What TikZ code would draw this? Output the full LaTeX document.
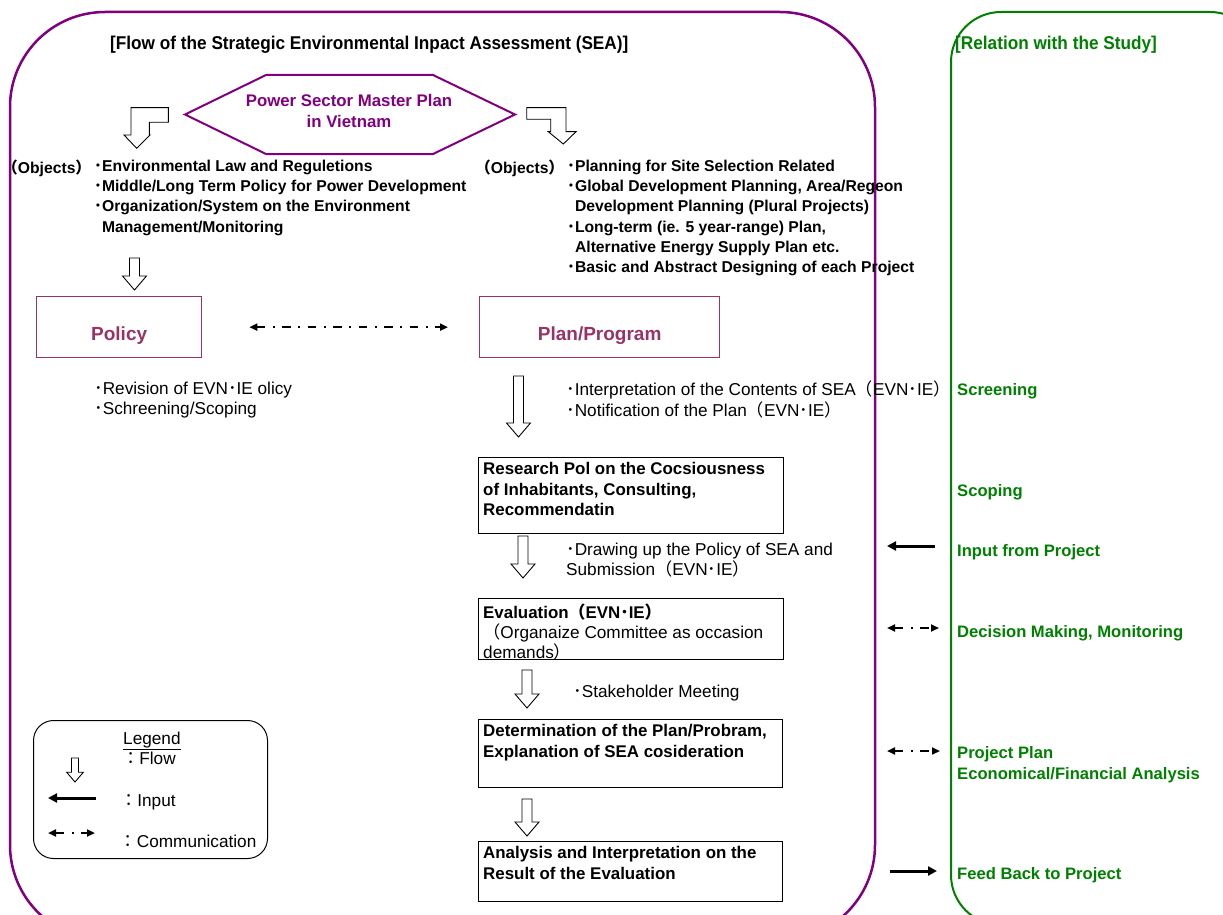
\documentclass[tikz,border=0pt]{standalone}
\usepackage{fontspec}
\setmainfont{Liberation Sans}
\newfontfamily\jp{Noto Sans CJK JP}
\newfontfamily\headfont[FakeStretch=0.93]{Liberation Sans}
\usetikzlibrary{arrows.meta,positioning}

\definecolor{seapurple}{RGB}{128,0,128}
\definecolor{polpink}{RGB}{153,51,102}
\definecolor{studygreen}{RGB}{0,128,0}

\newcommand{\jdot}{{\jp ･}}
\newcommand{\jlp}{{\jp （}}
\newcommand{\jrp}{{\jp ）}}
\newcommand{\jcol}{{\jp ：}}
% hollow flow arrow: x, top, tip, size
\newcommand{\flowarrow}[4]{%
  \draw[flow] (#1-5*#4,#2) -- (#1+5*#4,#2) -- (#1+5*#4,#3-14*#4) -- (#1+12*#4,#3-14*#4)
    -- (#1,#3) -- (#1-12*#4,#3-14*#4) -- (#1-5*#4,#3-14*#4) -- cycle;}

\begin{document}
\begin{tikzpicture}[x=1pt,y=-1pt,>={Triangle[length=8pt,width=7pt]}]
   \tikzstyle{every node}=[inner sep=0pt]
   \tikzstyle{txt}=[anchor=north west,align=left,execute at begin node=\strut,font=\fontsize{17.2}{20.3}\selectfont]
   \tikzstyle{bold}=[txt,font=\fontsize{16.9}{20.3}\selectfont\bfseries]
   \tikzstyle{objs}=[txt,font=\fontsize{15.7}{20.2}\selectfont\bfseries]
   \tikzstyle{studynote}=[txt,text=studygreen,font=\fontsize{16.6}{20.3}\selectfont\bfseries]
   \tikzstyle{heading}=[txt,font=\headfont\fontsize{18.5}{22}\selectfont\bfseries]
   \tikzstyle{box}=[draw,line width=1pt,anchor=north west]
   \tikzstyle{polbox}=[draw=polpink,text=polpink,line width=1.3pt,anchor=north west,minimum height=61pt,
      font=\fontsize{19}{22}\selectfont\bfseries,text height=30pt,text depth=3pt]
   \tikzstyle{flow}=[draw=black,fill=white,line width=0.9pt]
   \tikzstyle{comm}=[<->,line width=2pt,dash pattern=on 8.5pt off 7.5pt on 2pt off 7.5pt]
   \tikzstyle{feed}=[->,line width=3pt,>={Triangle[length=9pt,width=9pt]}]

   \useasboundingbox (0,0) rectangle (1223,915);
   \clip (0,0) rectangle (1223,915);

   % frames
   \draw[seapurple,line width=2.5pt,rounded corners=95pt] (10,12) rectangle (875,940);
   \draw[studygreen,line width=2pt,rounded corners=50pt] (951,12) rectangle (1260,925);

   \node[heading] (title) at (110,33.6) {[Flow of the Strategic Environmental Inpact Assessment (SEA)]};
   \node[heading,text=studygreen] (reltitle) at (955,33.6) {[Relation with the Study]};

   % master plan
   \draw[seapurple,line width=2pt] (185,114.5) -- (266,75) -- (433,75) -- (515,114.5) -- (433,154) -- (266,154) -- cycle;
   \node[anchor=north,align=center,execute at begin node=\strut,text=seapurple,
         font=\fontsize{16.8}{21}\selectfont\bfseries] (psmp) at (349,94) {Power Sector Master Plan\\in Vietnam};
   \draw[flow] (168.3,107.7) -- (131,107.7) -- (131,135) -- (124,135) -- (136.7,148.3) -- (150,135)
      -- (149.3,135) -- (149.3,122.3) -- (168.3,122.3) -- cycle;
   \draw[flow] (526.7,107.7) -- (566,107.7) -- (566,131.7) -- (576,131.7) -- (563.3,144) -- (548.3,131.7)
      -- (550.7,131.7) -- (550.7,119.3) -- (526.7,119.3) -- cycle;

   % objects
   \node[objs] (lobj) at (2,159) {\jlp Objects\jrp};
   \node[objs] (litems) at (94,160) {\jdot Environmental Law and Reguletions\\
      \jdot Middle/Long Term Policy for Power Development\\
      \jdot Organization/System on the Environment\\
      \phantom{\jdot}Management/Monitoring};
   \node[objs] (robj) at (475,159) {\jlp Objects\jrp};
   \node[objs] (ritems) at (567,160) {\jdot Planning for Site Selection Related\\
      \jdot Global Development Planning, Area/Regeon\\
      \phantom{\jdot}Development Planning (Plural Projects)\\
      \jdot Long-term (ie. 5 year-range) Plan,\\
      \phantom{\jdot}Alternative Energy Supply Plan etc.\\
      \jdot Basic and Abstract Designing of each Project};
   \flowarrow{134.5}{258}{290}{1}

   % policy and plan
   \node[polbox,minimum width=165pt] (policy) at (36,296) {Policy};
   \node[polbox,minimum width=240pt] (plan) at (479,296) {Plan/Program};
   \draw[comm,shorten <=47pt,shorten >=31pt] (policy) -- (plan);

   \node[txt] (polnote) at (94,382) {\jdot Revision of EVN\jdot IE olicy\\ \jdot Schreening/Scoping};
   \node[txt] (plannote) at (566,381) {\jdot Interpretation of the Contents of SEA\jlp EVN\jdot IE\jrp\\
      \jdot Notification of the Plan\jlp EVN\jdot IE\jrp};
   \flowarrow{518.5}{376}{437}{1}

   % flow boxes
   \node[box,minimum width=305pt,minimum height=76pt] (research) at (478,457) {};
   \node[bold,below right=5.5pt and 5pt of research.north west] (researchtxt)
      {Research Pol on the Cocsiousness\\of Inhabitants, Consulting,\\Recommendatin};
   \flowarrow{523}{536}{578}{1}
   \node[txt] (drawnote) at (566,543) {\jdot Drawing up the Policy of SEA and\\Submission\jlp EVN\jdot IE\jrp};

   \node[box,minimum width=305pt,minimum height=61pt] (evaluation) at (478,598) {};
   \node[txt,below right=5.5pt and 5pt of evaluation.north west] (evaluationtxt)
      {{\fontsize{16.9}{20.3}\selectfont\bfseries Evaluation\jlp EVN\jdot IE\jrp}\\
       \jlp Organaize Committee as occasion\\demands\jrp};
   \flowarrow{527}{670}{708}{1}
   \node[txt] (stakenote) at (573,683) {\jdot Stakeholder Meeting};

   \node[box,minimum width=304pt,minimum height=68pt] (determination) at (478,719) {};
   \node[bold,below right=5.5pt and 5pt of determination.north west] (determinationtxt)
      {Determination of the Plan/Probram,\\Explanation of SEA cosideration};
   \flowarrow{527}{799}{836}{1}

   \node[box,minimum width=304pt,minimum height=60pt] (analysis) at (478,841) {};
   \node[bold,below right=5.5pt and 5pt of analysis.north west] (analysistxt)
      {Analysis and Interpretation on the\\Result of the Evaluation};

   % relation with the study
   \node[studynote] (screening) at (957,381.5) {Screening};
   \node[studynote] (scoping) at (957,482.5) {Scoping};
   \node[studynote] (inputnote) at (957,542.5) {Input from Project};
   \node[studynote] (decision) at (957,623) {Decision Making, Monitoring};
   \node[studynote] (projplan) at (957,746.5) {Project Plan\\Economical/Financial Analysis};
   \node[studynote] (feedback) at (957,865.5) {Feed Back to Project};

   \coordinate (inA) at (935,546);   \coordinate (inB) at (887,546);
   \coordinate (dmA) at (887,628);   \coordinate (dmB) at (939,628);
   \coordinate (ppA) at (887,751);   \coordinate (ppB) at (940,751);
   \coordinate (fbA) at (890,871);   \coordinate (fbB) at (937,871);
   \draw[feed] (inA) -- (inB);
   \draw[comm] (dmA) -- (dmB);
   \draw[comm] (ppA) -- (ppB);
   \draw[feed] (fbA) -- (fbB);

   % legend
   \node[draw,line width=1pt,rounded corners=20pt,anchor=north west,minimum width=234pt,minimum height=138pt] (legend) at (33,720) {};
   \node[txt] (legendtitle) at (123,730) {\underline{Legend}};
   \flowarrow{75}{758}{782}{0.7}
   \node[txt] (lgflow) at (122,750.5) {\jcol Flow};
   \coordinate (lgInA) at (96,798);  \coordinate (lgInB) at (48,798);
   \draw[feed] (lgInA) -- (lgInB);
   \node[txt] (lginput) at (120,792.5) {\jcol Input};
   \coordinate (lgCmA) at (48,833);  \coordinate (lgCmB) at (95,833);
   \draw[comm] (lgCmA) -- (lgCmB);
   \node[txt] (lgcomm) at (119.5,833) {\jcol Communication};
\end{tikzpicture}
\end{document}
